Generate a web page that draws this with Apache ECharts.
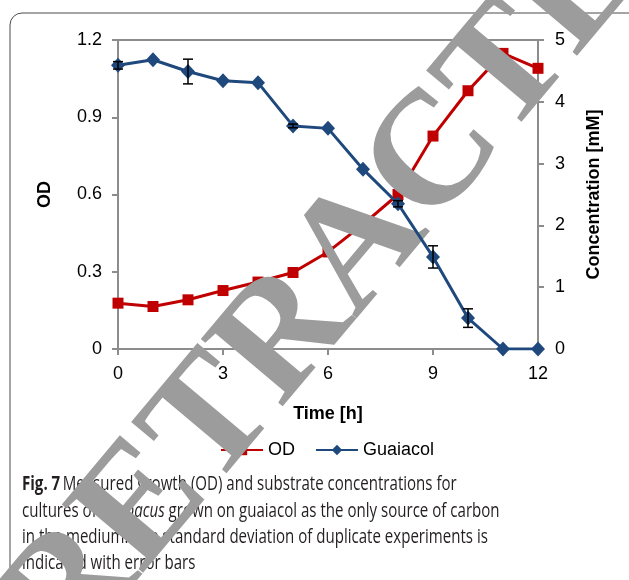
<!DOCTYPE html>
<html>
<head>
<meta charset="utf-8">
<script src="https://cdn.jsdelivr.net/npm/echarts@6/dist/echarts.min.js"></script>
<style>
html,body{margin:0;padding:0;background:#fff;}
#c{width:629px;height:580px;}
</style>
</head>
<body>
<div id="c"></div>
<script>
// ---- data ----
const timeH = [0, 1, 2, 3, 4, 5, 6, 7, 8, 9, 10, 11, 12];
const odValues = [0.178, 0.165, 0.191, 0.227, 0.26, 0.297, 0.377, 0.484, 0.60, 0.827, 1.003, 1.148, 1.09];
const guaiacolValues = [4.59, 4.68, 4.49, 4.34, 4.31, 3.61, 3.57, 2.91, 2.35, 1.49, 0.50, 0, 0];
const guaiacolSD = [0.06, 0, 0.2, 0, 0, 0.03, 0, 0, 0.05, 0.18, 0.15, 0, 0];
const xTicks = [0, 3, 6, 9, 12];
const odTicks = [0, 0.3, 0.6, 0.9, 1.2];
const concTicks = [0, 1, 2, 3, 4, 5];
const captionLines = [
  "Fig. 7|Measured growth (OD) and substrate concentrations for",
  "cultures of |R. opacus| grown on guaiacol as the only source of carbon",
  "in the medium. The standard deviation of duplicate experiments is",
  "indicated with error bars"
];
const watermark = "RETRACTED";

const FONT = '"Liberation Sans", Arial, sans-serif';
const CAP_FONT = '"Open Sans", "Noto Sans", sans-serif';
const RED = '#c00000';
const BLUE = '#1f497d';
const AXIS = '#8c8c8c';

const chart = echarts.init(document.getElementById('c'), null, {renderer: 'canvas'});

// measure caption width to compress like the narrow original typeface
const cv = document.createElement('canvas').getContext('2d');
cv.font = '20px "Open Sans"';
const line2 = captionLines[1].replace(/\|/g, '');
const capScale = 481 / cv.measureText(line2).width;

function captionRich(line, idx) {
  const parts = line.split('|');
  if (idx === 0) return '{b|' + parts[0] + '} {n|' + parts[1] + '}';
  if (idx === 1) return '{n|' + parts[0] + '}{i|' + parts[1] + '}{n|' + parts[2] + '}';
  return '{n|' + parts[0] + '}';
}
const capY = [484, 511, 537, 563];
const captionGraphics = captionLines.map((ln, i) => ({
  type: 'text', x: 22, y: capY[i], scaleX: capScale, z: 1,
  style: {
    text: captionRich(ln, i), x: 0, y: 0, verticalAlign: 'middle', align: 'left',
    rich: {
      n: {fontFamily: CAP_FONT, fontSize: 20, fill: '#231f20'},
      b: {fontFamily: CAP_FONT, fontSize: 20, fontWeight: 'bold', fill: '#231f20'},
      i: {fontFamily: CAP_FONT, fontSize: 20, fontStyle: 'italic', fill: '#231f20'}
    }
  }
}));

const errData = timeH.map((t, i) => [t, guaiacolValues[i] - guaiacolSD[i], guaiacolValues[i] + guaiacolSD[i]]).filter((d, i) => guaiacolSD[i] > 0);

const option = {
  animation: false,
  textStyle: {fontFamily: FONT},
  grid: {left: 118, right: 91, top: 40, bottom: 231, show: true, borderColor: AXIS, borderWidth: 2, z: 0},
  legend: {
    data: ['OD', 'Guaiacol'], left: 215, top: 436, itemWidth: 42, itemHeight: 13, itemGap: 20, z: 4,
    textStyle: {fontFamily: FONT, fontSize: 18, color: '#000'}
  },
  xAxis: {
    type: 'value', min: xTicks[0], max: xTicks[xTicks.length - 1], interval: xTicks[1] - xTicks[0],
    name: 'Time [h]', nameLocation: 'middle', nameGap: 56,
    nameTextStyle: {fontFamily: FONT, fontSize: 18, fontWeight: 'bold', color: '#000'},
    axisLine: {lineStyle: {color: AXIS, width: 2}},
    axisTick: {show: true, length: 6, lineStyle: {color: AXIS, width: 2}},
    axisLabel: {fontSize: 18, color: '#000', margin: 16},
    splitLine: {show: false}
  },
  yAxis: [{
    type: 'value', min: odTicks[0], max: odTicks[odTicks.length - 1], interval: odTicks[1] - odTicks[0],
    name: 'OD', nameLocation: 'middle', nameRotate: 90, nameGap: 64,
    nameTextStyle: {fontFamily: FONT, fontSize: 18, fontWeight: 'bold', color: '#000'},
    axisLine: {show: true, lineStyle: {color: AXIS, width: 2}},
    axisTick: {show: true, length: 6, lineStyle: {color: AXIS, width: 2}},
    axisLabel: {fontSize: 18, color: '#000', margin: 16, formatter: v => String(+v.toFixed(1))},
    splitLine: {show: false}
  }, {
    type: 'value', position: 'right', min: concTicks[0], max: concTicks[concTicks.length - 1], interval: concTicks[1] - concTicks[0],
    name: 'Concentration [mM]', nameLocation: 'middle', nameRotate: 90, nameGap: 47,
    nameTextStyle: {fontFamily: FONT, fontSize: 18, fontWeight: 'bold', color: '#000'},
    axisLine: {show: true, lineStyle: {color: AXIS, width: 2}},
    axisTick: {show: true, length: 6, lineStyle: {color: AXIS, width: 2}},
    axisLabel: {fontSize: 18, color: '#000', margin: 17},
    splitLine: {show: false}
  }],
  graphic: [
    {type: 'rect', z: 0, shape: {x: 10, y: 13, width: 640, height: 640, r: 12}, style: {fill: 'none', stroke: '#4a4a4a', lineWidth: 1}},
    ...captionGraphics,
    {type: 'text', x: 361, y: 248, rotation: 50 * Math.PI / 180, z: 5,
      style: {text: watermark, x: 0, y: 0, align: 'center', verticalAlign: 'middle',
        fontFamily: '"Liberation Serif", "Times New Roman", serif', fontWeight: 'bold', fontSize: 162, fill: '#9c9c9c'}}
  ],
  series: [{
    name: 'OD', type: 'line', yAxisIndex: 0, z: 2,
    data: timeH.map((t, i) => [t, odValues[i]]),
    symbol: 'rect', symbolSize: 11,
    lineStyle: {color: RED, width: 3}, itemStyle: {color: RED}
  }, {
    name: 'Guaiacol', type: 'line', yAxisIndex: 1, z: 8,
    data: timeH.map((t, i) => [t, guaiacolValues[i]]),
    symbol: 'diamond', symbolSize: [14, 15],
    lineStyle: {color: BLUE, width: 3}, itemStyle: {color: BLUE}
  }, {
    name: 'SD', type: 'custom', yAxisIndex: 1, z: 9,
    data: errData,
    renderItem: function (params, api) {
      const x = api.value(0);
      const lo = api.coord([x, api.value(1)]);
      const hi = api.coord([x, api.value(2)]);
      const hw = 5;
      const st = {stroke: '#000', lineWidth: 1.5};
      return {type: 'group', children: [
        {type: 'line', shape: {x1: lo[0], y1: lo[1], x2: hi[0], y2: hi[1]}, style: st},
        {type: 'line', shape: {x1: lo[0] - hw, y1: lo[1], x2: lo[0] + hw, y2: lo[1]}, style: st},
        {type: 'line', shape: {x1: hi[0] - hw, y1: hi[1], x2: hi[0] + hw, y2: hi[1]}, style: st}
      ]};
    }
  }]
};
chart.setOption(option);
</script>
</body>
</html>
